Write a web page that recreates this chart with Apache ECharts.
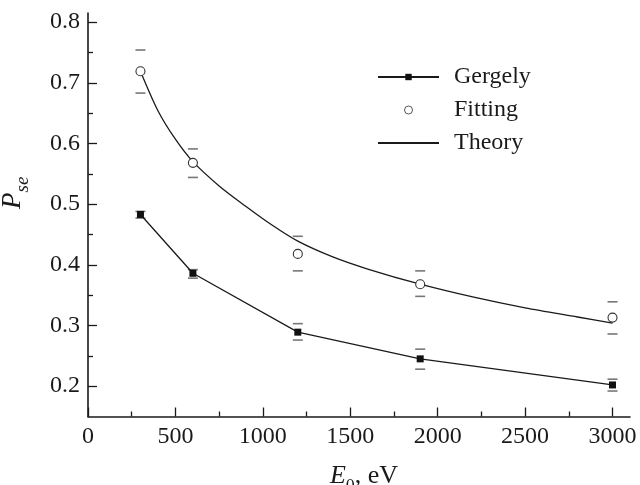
<!DOCTYPE html>
<html>
<head>
<meta charset="utf-8">
<script src="https://cdn.jsdelivr.net/npm/echarts@6/dist/echarts.min.js"></script>
<style>
html,body{margin:0;padding:0;background:#fff;}
#chart{width:640px;height:485px;}
</style>
</head>
<body>
<div id="chart"></div>
<script>
// ---- data ----
const energies = [300, 600, 1200, 1900, 3000];
const gergely = [0.483, 0.386, 0.289, 0.245, 0.202];
const gergelyErrLow = [0.477, 0.378, 0.276, 0.228, 0.192];
const gergelyErrHigh = [0.488, 0.392, 0.303, 0.261, 0.2115];
const fitting = [0.719, 0.568, 0.418, 0.368, 0.313];
const fittingErrLow = [0.683, 0.544, 0.390, 0.348, 0.286];
const fittingErrHigh = [0.754, 0.591, 0.447, 0.390, 0.339];
const theoryE = [300, 400, 500, 600, 750, 900, 1050, 1200, 1400, 1600, 1900, 2200, 2500, 2800, 3000];
const theoryP = [0.719, 0.654, 0.607, 0.570, 0.530, 0.497, 0.466, 0.439, 0.413, 0.393, 0.368, 0.347, 0.329, 0.314, 0.304];
const xMajorTicks = [0, 500, 1000, 1500, 2000, 2500, 3000];
const xMinorTicks = [250, 750, 1250, 1750, 2250, 2750];
const yMajorTicks = [0.2, 0.3, 0.4, 0.5, 0.6, 0.7, 0.8];
const yMinorTicks = [0.25, 0.35, 0.45, 0.55, 0.65, 0.75];

const FONT = 'Liberation Serif';
const INK = '#1a1a1a';

const pairs = (xs, ys) => xs.map((x, i) => [x, ys[i]]);
const errData = (xs, lo, hi) => xs.map((x, i) => [x, lo[i], hi[i]]);

function capRender(halfW) {
  return function (params, api) {
    const x = api.value(0);
    const pLo = api.coord([x, api.value(1)]);
    const pHi = api.coord([x, api.value(2)]);
    const st = { stroke: '#777', lineWidth: 1.6 };
    return {
      type: 'group',
      children: [
        { type: 'line', shape: { x1: pLo[0] - halfW, y1: pLo[1], x2: pLo[0] + halfW, y2: pLo[1] }, style: st },
        { type: 'line', shape: { x1: pHi[0] - halfW, y1: pHi[1], x2: pHi[0] + halfW, y2: pHi[1] }, style: st }
      ]
    };
  };
}

const chart = echarts.init(document.getElementById('chart'), null, { renderer: 'canvas' });
const xBase = { type: 'value', min: 0, max: 3100, gridIndex: 0, position: 'bottom', splitLine: { show: false } };
const yBase = { type: 'value', min: 0.15, max: 0.815, gridIndex: 0, position: 'left', splitLine: { show: false } };

chart.setOption({
  animation: false,
  backgroundColor: '#fff',
  grid: { left: 88, right: 10, top: 13, bottom: 68.5, outerBoundsMode: 'none' },
  legend: {
    data: [
      { name: 'Gergely' },
      { name: 'Fitting', itemStyle: { color: '#fff', borderColor: '#444', borderWidth: 0.9 } },
      { name: 'Theory', itemStyle: { color: 'rgba(0,0,0,0)', borderWidth: 0, opacity: 0 } }
    ],
    orient: 'vertical',
    left: 372,
    top: 60,
    itemWidth: 61,
    itemHeight: 8,
    itemGap: 9,
    textStyle: { fontFamily: FONT, fontSize: 24, color: INK, padding: [0, 0, 0, 10] },
    selectedMode: false
  },
  xAxis: [
    Object.assign({}, xBase, {
      axisLine: { show: true, lineStyle: { color: INK, width: 1.6 } },
      axisTick: { show: true, inside: true, length: 9, customValues: xMajorTicks, lineStyle: { color: INK, width: 1.3 } },
      axisLabel: { show: true, customValues: xMajorTicks, margin: 8, fontFamily: FONT, fontSize: 24, color: INK, formatter: v => String(v) },
      name: '{i|E}{s|0}{n|, eV}',
      nameLocation: 'middle',
      nameGap: 47,
      nameTextStyle: {
        padding: [0, 0, 0, 10],
        rich: {
          i: { fontFamily: FONT, fontStyle: 'italic', fontSize: 26, color: INK, verticalAlign: 'bottom', padding: [0, 0, 7, 0] },
          s: { fontFamily: FONT, fontSize: 18, color: INK, verticalAlign: 'bottom' },
          n: { fontFamily: FONT, fontSize: 26, color: INK, verticalAlign: 'bottom', padding: [0, 0, 7, 0] }
        }
      }
    }),
    Object.assign({}, xBase, {
      axisLine: { show: false },
      axisTick: { show: true, inside: true, length: 5, customValues: xMinorTicks, lineStyle: { color: INK, width: 1.3 } },
      axisLabel: { show: false }
    })
  ],
  yAxis: [
    Object.assign({}, yBase, {
      axisLine: { show: true, lineStyle: { color: INK, width: 1.6 } },
      axisTick: { show: true, inside: true, length: 9, customValues: yMajorTicks, lineStyle: { color: INK, width: 1.3 } },
      axisLabel: { show: true, customValues: yMajorTicks, margin: 8, fontFamily: FONT, fontSize: 24, color: INK, formatter: v => v.toFixed(1) },
      name: '{i|P}{s|se}',
      nameLocation: 'middle',
      nameGap: 56,
      nameRotate: 90,
      nameTextStyle: {
        padding: [0, 0, 0, 44],
        rich: {
          i: { fontFamily: FONT, fontStyle: 'italic', fontSize: 27, color: INK, verticalAlign: 'bottom', padding: [0, 0, 6, 0] },
          s: { fontFamily: FONT, fontStyle: 'italic', fontSize: 19, color: INK, verticalAlign: 'bottom' }
        }
      }
    }),
    Object.assign({}, yBase, {
      axisLine: { show: false },
      axisTick: { show: true, inside: true, length: 5, customValues: yMinorTicks, lineStyle: { color: INK, width: 1.3 } },
      axisLabel: { show: false }
    })
  ],
  series: [
    {
      name: 'GergelyErr', type: 'custom', xAxisIndex: 0, yAxisIndex: 0,
      renderItem: capRender(5), data: errData(energies, gergelyErrLow, gergelyErrHigh), z: 1, silent: true
    },
    {
      name: 'FittingErr', type: 'custom', xAxisIndex: 0, yAxisIndex: 0,
      renderItem: capRender(5), data: errData(energies, fittingErrLow, fittingErrHigh), z: 1, silent: true
    },
    {
      name: 'Gergely', type: 'line', xAxisIndex: 0, yAxisIndex: 0,
      data: pairs(energies, gergely),
      symbol: 'rect', symbolSize: 7, showAllSymbol: true,
      itemStyle: { color: '#111' },
      lineStyle: { color: INK, width: 1.3 },
      z: 3
    },
    {
      name: 'Fitting', type: 'scatter', xAxisIndex: 0, yAxisIndex: 0,
      data: pairs(energies, fitting),
      symbol: 'circle', symbolSize: 9,
      itemStyle: { color: '#fff', borderColor: '#333', borderWidth: 1.1, opacity: 1 },
      z: 4
    },
    {
      name: 'Theory', type: 'line', xAxisIndex: 0, yAxisIndex: 0,
      data: pairs(theoryE, theoryP),
      smooth: 0.3, symbol: 'none',
      itemStyle: { color: INK },
      lineStyle: { color: INK, width: 1.3 },
      z: 2
    }
  ]
});
</script>
</body>
</html>
